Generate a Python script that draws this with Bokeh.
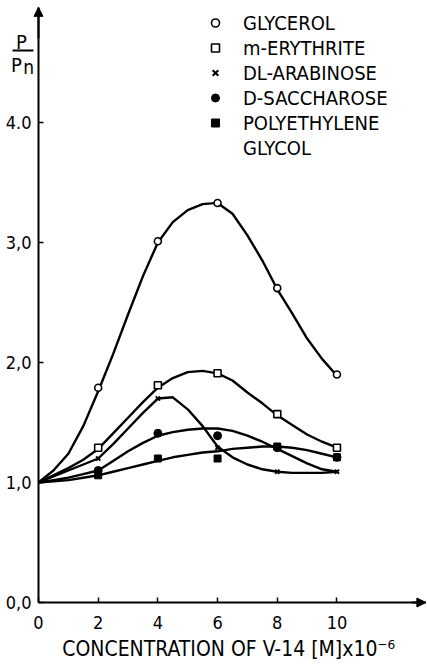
from bokeh.plotting import figure
from bokeh.models import Label, Arrow, NormalHead, Legend, LegendItem, FixedTicker
from bokeh.embed import file_html
from bokeh.resources import INLINE

FONT = "DejaVu Sans Condensed"

CURVE_X = [0, 0.5, 1, 1.5, 2, 2.5, 3, 3.5, 4, 4.5, 5, 5.5, 6, 6.5, 7, 7.5, 8, 8.5, 9, 9.5, 10]
GLYCEROL_CURVE = [1.00, 1.10, 1.24, 1.47, 1.76, 2.07, 2.40, 2.72, 3.00, 3.17, 3.27, 3.32, 3.33,
                  3.24, 3.06, 2.85, 2.61, 2.41, 2.20, 2.03, 1.89]
ERYTHRITE_CURVE = [1.00, 1.06, 1.12, 1.19, 1.28, 1.41, 1.54, 1.67, 1.79, 1.87, 1.92, 1.93, 1.91,
                   1.85, 1.75, 1.66, 1.56, 1.48, 1.40, 1.34, 1.29]
ARABINOSE_CURVE = [1.00, 1.05, 1.10, 1.15, 1.20, 1.32, 1.45, 1.58, 1.70, 1.71, 1.61, 1.47, 1.30,
                   1.21, 1.15, 1.11, 1.09, 1.08, 1.08, 1.08, 1.09]
SACCHAROSE_CURVE = [1.00, 1.02, 1.04, 1.07, 1.10, 1.18, 1.26, 1.33, 1.39, 1.42, 1.44, 1.45, 1.45,
                    1.43, 1.39, 1.34, 1.28, 1.22, 1.16, 1.11, 1.09]
PEG_CURVE = [1.00, 1.01, 1.02, 1.04, 1.06, 1.09, 1.12, 1.15, 1.18, 1.21, 1.23, 1.25, 1.26,
             1.28, 1.29, 1.30, 1.30, 1.29, 1.27, 1.24, 1.21]

# measured points
POINT_X = [2, 4, 6, 8, 10]
GLYCEROL = [1.79, 3.01, 3.33, 2.62, 1.90]
ERYTHRITE = [1.29, 1.81, 1.91, 1.57, 1.29]
ARABINOSE = [1.20, 1.70, 1.29, 1.09, 1.09]
SACCHAROSE = [1.10, 1.41, 1.39, 1.29, 1.21]
PEG = [1.06, 1.20, 1.20, 1.30, 1.21]

X_TICKS = [0, 2, 4, 6, 8, 10]
Y_TICKS = [0, 1, 2, 3, 4]
Y_TICK_LABELS = ["0,0", "1,0", "2,0", "3,0", "4.0"]
LEGEND_LABELS = ["GLYCEROL", "m-ERYTHRITE", "DL-ARABINOSE", "D-SACCHAROSE", "POLYETHYLENE", "GLYCOL"]
X_TITLE = "CONCENTRATION OF V-14 [M]x10\u207b\u2076"

X_MIN = -1.273
X_MAX = 13.0
Y_MIN = -0.5167
Y_MAX = 5.017
Y_AXIS_TOP = 4.96

p = figure(width=426, height=664, x_range=(X_MIN, X_MAX), y_range=(Y_MIN, Y_MAX),
           output_backend="svg", toolbar_location=None,
           min_border_left=0, min_border_right=0, min_border_top=0, min_border_bottom=0)
p.outline_line_color = None
p.grid.visible = False
p.background_fill_color = "white"

p.xaxis.fixed_location = 0
p.yaxis.fixed_location = 0
p.xaxis.bounds = (0, X_MAX)
p.yaxis.bounds = (0, Y_AXIS_TOP)

for ax in (p.xaxis[0], p.yaxis[0]):
    ax.axis_line_width = 2
    ax.axis_line_color = "black"
    ax.major_tick_in = 5
    ax.major_tick_out = 0
    ax.major_tick_line_width = 1.5
    ax.minor_tick_line_color = None
    ax.major_label_text_font = FONT
    ax.major_label_text_color = "black"

p.xaxis.ticker = FixedTicker(ticks=X_TICKS)
p.xaxis.major_label_text_font_size = "18px"
p.xaxis.major_label_standoff = 13
p.yaxis.ticker = FixedTicker(ticks=Y_TICKS)
p.yaxis.major_label_overrides = {t: l for t, l in zip(Y_TICKS, Y_TICK_LABELS)}
p.yaxis.major_label_text_font_size = "18px"
p.yaxis.major_label_standoff = 7

# curves
for cy in (GLYCEROL_CURVE, ERYTHRITE_CURVE, ARABINOSE_CURVE, SACCHAROSE_CURVE, PEG_CURVE):
    p.line(CURVE_X, cy, line_color="black", line_width=2.4, line_join="round")

r1 = p.scatter(POINT_X, GLYCEROL, marker="circle", size=7, fill_color="white",
               line_color="black", line_width=1.6)
r2 = p.scatter(POINT_X, ERYTHRITE, marker="square", size=7, fill_color="white",
               line_color="black", line_width=1.6)
r3 = p.scatter(POINT_X, ARABINOSE, marker="x", size=6, line_color="black", line_width=2)
r4 = p.scatter(POINT_X, SACCHAROSE, marker="circle", size=8, fill_color="black", line_color="black")
r5 = p.scatter(POINT_X, PEG, marker="square", size=7, fill_color="black", line_color="black")
r6 = p.scatter([], [], marker="square", size=1, fill_alpha=0, line_alpha=0)

legend = Legend(items=[LegendItem(label=l, renderers=[r]) for l, r in
                       zip(LEGEND_LABELS, [r1, r2, r3, r4, r5, r6])],
                location=(205, 504), orientation="vertical",
                border_line_alpha=0, background_fill_alpha=0,
                padding=0, margin=0, spacing=0,
                glyph_width=20, glyph_height=25, label_height=25, label_standoff=18,
                label_text_font=FONT, label_text_font_size="20px", label_text_color="black")
p.add_layout(legend, "center")

# axis arrows
p.add_layout(Arrow(end=NormalHead(size=9, fill_color="black", line_color="black"),
                   x_start=0, y_start=4.7, x_end=0, y_end=Y_AXIS_TOP,
                   line_width=2, line_color="black"))
p.add_layout(Arrow(end=NormalHead(size=9, fill_color="black", line_color="black"),
                   x_start=12.5, y_start=0, x_end=12.98, y_end=0,
                   line_width=2, line_color="black"))

# y-axis title P / Pn
p.add_layout(Label(x=-0.57, y=4.675, text="P", text_font=FONT, text_font_size="20px",
                   text_align="center", text_baseline="middle", text_color="black"))
p.add_layout(Arrow(end=None, x_start=-0.87, y_start=4.6, x_end=-0.17, y_end=4.6,
                   line_width=2, line_color="black"))
p.add_layout(Label(x=-0.74, y=4.48, text="P", text_font=FONT, text_font_size="20px",
                   text_align="center", text_baseline="middle", text_color="black"))
p.add_layout(Label(x=-0.33, y=4.46, text="n", text_font=FONT, text_font_size="19px",
                   text_align="center", text_baseline="middle", text_color="black"))

# x-axis title
p.add_layout(Label(x=6.37, y=-0.39, text=X_TITLE, text_font=FONT, text_font_size="21px",
                   text_align="center", text_baseline="middle", text_color="black"))

open("out.html", "w").write(file_html(p, INLINE))
